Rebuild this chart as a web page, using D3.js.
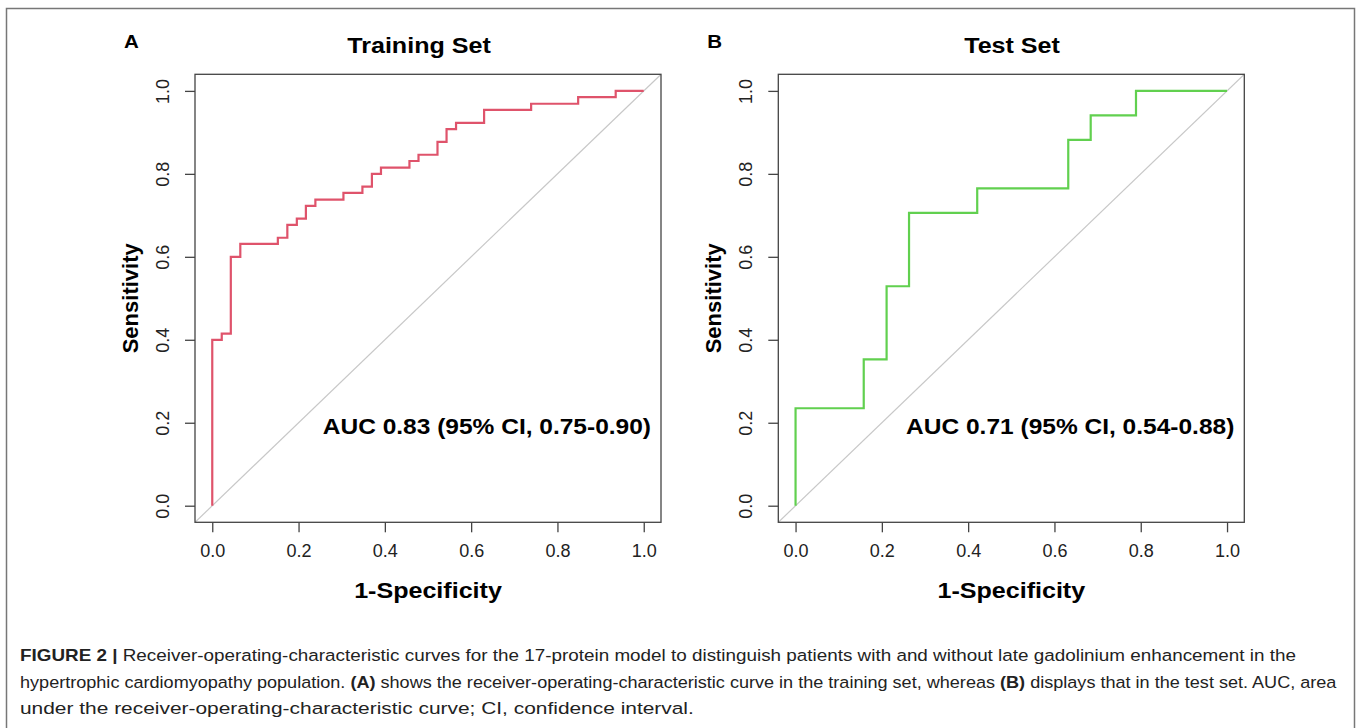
<!DOCTYPE html>
<html>
<head>
<meta charset="utf-8">
<script src="https://cdn.jsdelivr.net/npm/d3@7"></script>
<style>
  body { margin: 0; background: #fff; }
  svg { display: block; font-family: 'Liberation Sans', Arial, sans-serif; }
</style>
</head>
<body>
<svg id="fig" width="1357" height="728"></svg>
<script>
// ROC points (1 - specificity, sensitivity)
const trainFpr = [0, 0, 0.022, 0.043, 0.065, 0.152, 0.174, 0.196, 0.217, 0.239, 0.304, 0.348,
  0.370, 0.391, 0.457, 0.478, 0.522, 0.543, 0.565, 0.630, 0.739, 0.848, 0.935, 1.0];
const trainTpr = [0, 0.400, 0.415, 0.600, 0.631, 0.646, 0.677, 0.692, 0.723, 0.738, 0.754, 0.769,
  0.800, 0.815, 0.831, 0.846, 0.877, 0.908, 0.923, 0.954, 0.969, 0.985, 1.0, 1.0];

const testFpr = [0, 0, 0.158, 0.211, 0.263, 0.421, 0.632, 0.684, 0.789, 1.0];
const testTpr = [0, 0.235, 0.353, 0.529, 0.706, 0.765, 0.882, 0.941, 1.0, 1.0];

const tickValues = [0, 0.2, 0.4, 0.6, 0.8, 1.0];
const panelTitles = ['Training Set', 'Test Set'];
const panelLetters = ['A', 'B'];
const aucLabels = ['AUC 0.83 (95% CI, 0.75-0.90)', 'AUC 0.71 (95% CI, 0.54-0.88)'];
const curveColors = ['#DF536B', '#61D04F'];

// the source picture is a bit wider than tall, so horizontal text is stretched
const stretch = 1.14;

const svg = d3.select('#fig');

// outer frame
svg.append('rect')
  .attr('x', 6.5).attr('y', 8.5)
  .attr('width', 1348).attr('height', 740)
  .attr('fill', 'none')
  .attr('stroke', '#777')
  .attr('stroke-width', 1.5);

const boxTop = 74.3;
const boxBottom = 522.3;
const boxW = 466;

function wideText(g, x, y, size, anchor, str) {
  return g.append('text')
    .attr('transform', 'translate(' + x + ',' + y + ') scale(' + stretch + ',1)')
    .attr('text-anchor', anchor)
    .attr('font-size', size)
    .attr('font-weight', 'bold')
    .text(str);
}

function drawPanel(i, left, fpr, tpr, titleX) {
  const right = left + boxW;
  const x = d3.scaleLinear().domain([-0.04, 1.04]).range([left, right]);
  const y = d3.scaleLinear().domain([-0.04, 1.04]).range([boxBottom, boxTop]);
  const g = svg.append('g');

  const clipId = 'clip' + i;
  g.append('clipPath').attr('id', clipId)
    .append('rect')
    .attr('x', left).attr('y', boxTop)
    .attr('width', right - left).attr('height', boxBottom - boxTop);

  // chance diagonal
  g.append('line')
    .attr('clip-path', 'url(#' + clipId + ')')
    .attr('x1', x(-0.04)).attr('y1', y(-0.04))
    .attr('x2', x(1.04)).attr('y2', y(1.04))
    .attr('stroke', '#c8c8c8')
    .attr('stroke-width', 1.2);

  const pts = fpr.map((d, k) => [d, tpr[k]]);
  const line = d3.line()
    .x(d => x(d[0]))
    .y(d => y(d[1]))
    .curve(d3.curveStepAfter);

  g.append('path')
    .datum(pts)
    .attr('d', line)
    .attr('fill', 'none')
    .attr('stroke', curveColors[i])
    .attr('stroke-width', 2.2);

  // box
  g.append('rect')
    .attr('x', left).attr('y', boxTop)
    .attr('width', right - left).attr('height', boxBottom - boxTop)
    .attr('fill', 'none')
    .attr('stroke', '#444')
    .attr('stroke-width', 1.3);

  const xAxis = g.append('g')
    .attr('transform', 'translate(0,' + boxBottom + ')')
    .call(d3.axisBottom(x).tickValues(tickValues).tickFormat(d3.format('.1f')).tickSize(10).tickPadding(12));
  xAxis.select('.domain').remove();
  xAxis.selectAll('line').attr('stroke', '#444').attr('stroke-width', 1.3);
  xAxis.selectAll('text')
    .attr('font-size', 18).attr('fill', '#222')
    .attr('font-family', 'Liberation Sans, Arial, sans-serif');

  const yAxis = g.append('g')
    .attr('transform', 'translate(' + left + ',0)')
    .call(d3.axisLeft(y).tickValues(tickValues).tickFormat(d3.format('.1f')).tickSize(10));
  yAxis.select('.domain').remove();
  yAxis.selectAll('line').attr('stroke', '#444').attr('stroke-width', 1.3);
  yAxis.selectAll('text')
    .attr('font-size', 18).attr('fill', '#222')
    .attr('font-family', 'Liberation Sans, Arial, sans-serif')
    .attr('text-anchor', 'middle')
    .attr('dy', null)
    .attr('x', null)
    .attr('transform', 'translate(-32,0) rotate(-90)')
    .attr('dominant-baseline', 'central');

  const cx = (left + right) / 2;

  wideText(g, titleX, 53, 22, 'middle', panelTitles[i]);
  wideText(g, left - 71, 48, 18, 'start', panelLetters[i]);
  wideText(g, cx, 598, 22, 'middle', '1-Specificity');
  wideText(g, right - 10, 434, 21.5, 'end', aucLabels[i]);

  g.append('text')
    .attr('transform', 'translate(' + (left - 57) + ',' + ((boxTop + boxBottom) / 2) + ') rotate(-90)')
    .attr('text-anchor', 'middle')
    .attr('font-size', 22).attr('font-weight', 'bold')
    .text('Sensitivity');
}

drawPanel(0, 195, trainFpr, trainTpr, 419);
drawPanel(1, 778.3, testFpr, testTpr, 1012);

// caption, each line fitted to the width it has in the source
const captionLines = [
  [['FIGURE 2 | ', true], ['Receiver-operating-characteristic curves for the 17-protein model to distinguish patients with and without late gadolinium enhancement in the', false]],
  [['hypertrophic cardiomyopathy population. ', false], ['(A)', true], [' shows the receiver-operating-characteristic curve in the training set, whereas ', false], ['(B)', true], [' displays that in the test set. AUC, area', false]],
  [['under the receiver-operating-characteristic curve; CI, confidence interval.', false]]
];
const captionWidths = [1276, 1317, 674];

captionLines.forEach((parts, li) => {
  const t = svg.append('text')
    .attr('font-size', 16.5)
    .attr('fill', '#222');
  parts.forEach(p => {
    t.append('tspan').text(p[0]).attr('font-weight', p[1] ? 'bold' : 'normal');
  });
  const w = t.node().getComputedTextLength();
  const sx = captionWidths[li] / w;
  t.attr('transform', 'translate(20,' + (661 + li * 26.5) + ') scale(' + sx + ',1)');
});
</script>
</body>
</html>
